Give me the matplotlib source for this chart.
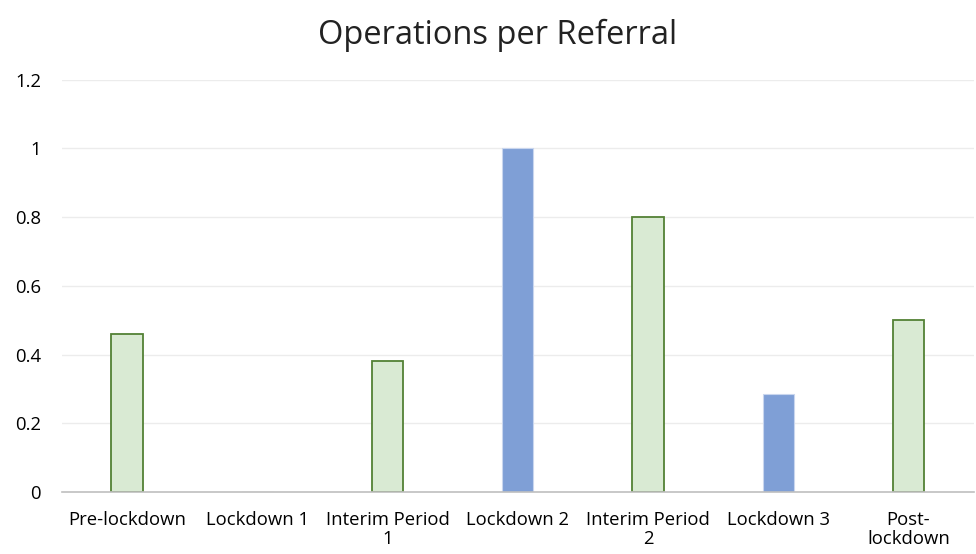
import matplotlib.pyplot as plt
import numpy as np

plt.rcParams['font.family'] = ['Open Sans', 'DejaVu Sans']

periods = ["Pre-lockdown", "Lockdown 1", "Interim Period\n1", "Lockdown 2",
           "Interim Period\n2", "Lockdown 3", "Post-\nlockdown"]
ops_per_referral = [0.46, 0.0, 0.38, 1.0, 0.8, 0.2857, 0.5]
is_lockdown = [False, True, False, True, False, True, False]

green_fill = "#d9ead3"
green_edge = "#538135"
blue_fill = "#7f9fd6"

fig = plt.figure(figsize=(9.76, 5.54), dpi=100)
ax = fig.add_axes([0.0635, 0.112, 0.934, 0.744])

x = np.arange(len(periods))
for i in range(len(periods)):
    if is_lockdown[i]:
        ax.bar(x[i], ops_per_referral[i], width=0.24, color=blue_fill,
               edgecolor="#c9d6ee", linewidth=0.8, zorder=3)
    else:
        ax.bar(x[i], ops_per_referral[i], width=0.24, color=green_fill,
               edgecolor=green_edge, linewidth=1.3, zorder=3)

ax.set_xlim(-0.5, len(periods) - 0.5)
ax.set_ylim(0, 1.2)
ax.set_yticks([0, 0.2, 0.4, 0.6, 0.8, 1, 1.2])
ax.set_yticklabels(["0", "0.2", "0.4", "0.6", "0.8", "1", "1.2"])
ax.set_xticks(x)
ax.set_xticklabels(periods, linespacing=1.05)

ax.grid(axis="y", color="#ececec", linewidth=1, zorder=0)
for s in ["top", "right", "left"]:
    ax.spines[s].set_visible(False)
ax.spines["bottom"].set_color("#bfbfbf")
ax.spines["bottom"].set_linewidth(1.2)
ax.spines["bottom"].set_zorder(4)
ax.tick_params(axis="both", length=0, labelsize=13.3, colors="#000000")
ax.tick_params(axis="y", pad=15)
ax.tick_params(axis="x", pad=14)

fig.text(0.510, 0.937, "Operations per Referral", ha="center", va="center",
         fontsize=23.5, color="#222222")

fig.savefig("out.png", dpi=100)
